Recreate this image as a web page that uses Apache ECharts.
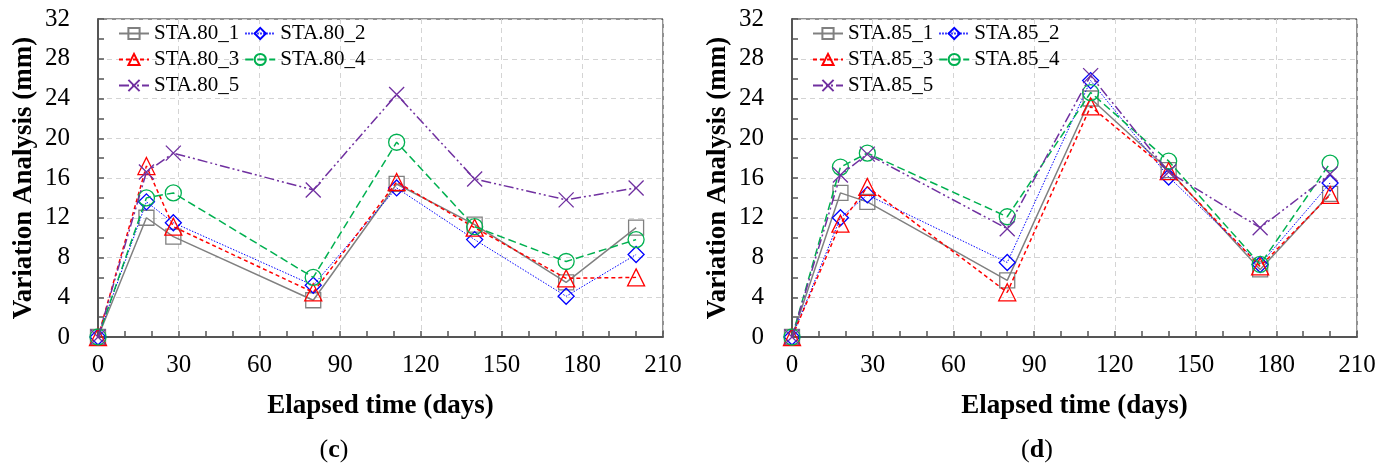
<!DOCTYPE html>
<html>
<head>
<meta charset="utf-8">
<script src="https://cdn.jsdelivr.net/npm/echarts@6/dist/echarts.min.js"></script>
<style>html,body{margin:0;padding:0;background:#fff}#c{width:1388px;height:466px}</style>
</head>
<body>
<div id="c"></div>
<script>
// ---- data ----
const days = [0, 18, 28, 80, 111, 140, 174, 200];
const xTicks = [0, 30, 60, 90, 120, 150, 180, 210];
const yTicks = [0, 4, 8, 12, 16, 20, 24, 28, 32];

const namesC = ['STA.80_1', 'STA.80_2', 'STA.80_3', 'STA.80_4', 'STA.80_5'];
const sta80_1 = [0, 12.0, 10.1, 3.7, 15.4, 11.3, 5.5, 11.0];
const sta80_2 = [0, 13.6, 11.5, 5.2, 15.0, 9.8, 4.1, 8.3];
const sta80_3 = [0, 17.2, 11.1, 4.5, 15.6, 11.0, 5.9, 6.0];
const sta80_4 = [0, 14.0, 14.5, 6.0, 19.6, 11.1, 7.6, 9.8];
const sta80_5 = [0, 16.6, 18.5, 14.8, 24.4, 15.9, 13.8, 15.0];

const namesD = ['STA.85_1', 'STA.85_2', 'STA.85_3', 'STA.85_4', 'STA.85_5'];
const sta85_1 = [0, 14.5, 13.6, 5.7, 24.0, 16.8, 6.8, 14.4];
const sta85_2 = [0, 12.0, 14.3, 7.5, 25.8, 16.1, 7.3, 15.5];
const sta85_3 = [0, 11.4, 15.1, 4.5, 23.2, 16.7, 7.1, 14.3];
const sta85_4 = [0, 17.1, 18.5, 12.1, 24.6, 17.7, 7.3, 17.5];
const sta85_5 = [0, 16.3, 18.4, 10.9, 26.3, 16.6, 11.0, 16.4];

const captions = ['c', 'd'];

// ---- styles ----
const FONT = '"Liberation Serif", "Times New Roman", serif';
const styles = [
  {color: '#808080', type: 'solid', width: 1.5, symbol: 'rect', size: 15},
  {color: '#0000ff', type: [1.5, 1.5], width: 1, symbol: 'diamond', size: 16},
  {color: '#ff0000', type: [4, 3], width: 1.5, symbol: 'triangle', size: 17},
  {color: '#00b050', type: [8, 4], width: 1.5, symbol: 'circle', size: 16},
  {color: '#7030a0', type: [10, 3, 2, 3, 2, 3], width: 1.5, symbol: 'path://M0,0L10,10M10,0L0,10', size: 15}
];

function pairs(vals) { return days.map((d, i) => [d, vals[i]]); }

const gridDefs = [{left: 98, top: 19, width: 565, height: 318}, {left: 792, top: 19, width: 565, height: 318}];
const seriesSets = [[sta80_1, sta80_2, sta80_3, sta80_4, sta80_5], [sta85_1, sta85_2, sta85_3, sta85_4, sta85_5]];
const nameSets = [namesC, namesD];

const option = {
  animation: false,
  backgroundColor: '#fff',
  textStyle: {fontFamily: FONT},
  grid: gridDefs.map(g => Object.assign({show: true, borderColor: '#222', borderWidth: 1, backgroundColor: 'transparent'}, g)),
  legend: gridDefs.map((g, gi) => ({
    data: nameSets[gi],
    left: g.left + 20,
    top: 23,
    width: 300,
    orient: 'horizontal',
    itemWidth: 30,
    itemHeight: 14,
    itemGap: 5,
    textStyle: {fontFamily: FONT, fontSize: 21, color: '#000', lineHeight: 21},
    padding: 0
  })),
  xAxis: gridDefs.map((g, gi) => ({
    gridIndex: gi, type: 'value', min: xTicks[0], max: xTicks[xTicks.length - 1], interval: xTicks[1] - xTicks[0],
    name: 'Elapsed time (days)', nameLocation: 'middle', nameGap: 56,
    nameTextStyle: {fontFamily: FONT, fontSize: 27, fontWeight: 'bold', color: '#000'},
    axisLine: {show: true, onZero: false, lineStyle: {color: '#555', width: 2}},
    axisTick: {show: true, inside: true, length: 6, lineStyle: {color: '#555', width: 1.5}},
    minorTick: {show: true, splitNumber: 3, length: 6, lineStyle: {color: '#555', width: 1.5}},
    axisLabel: {fontFamily: FONT, fontSize: 25, color: '#000', margin: 16},
    splitLine: {show: true, lineStyle: {color: '#d4d4d4', type: [5, 4], width: 1}}
  })),
  yAxis: gridDefs.map((g, gi) => ({
    gridIndex: gi, type: 'value', min: yTicks[0], max: yTicks[yTicks.length - 1], interval: yTicks[1] - yTicks[0],
    name: 'Variation Analysis (mm)', nameLocation: 'middle', nameGap: 60, nameRotate: 90,
    nameTextStyle: {fontFamily: FONT, fontSize: 27, fontWeight: 'bold', color: '#000'},
    axisLine: {show: true, onZero: false, lineStyle: {color: '#555', width: 2}},
    axisTick: {show: true, inside: true, length: 6, lineStyle: {color: '#555', width: 1.5}},
    minorTick: {show: true, splitNumber: 2, length: 6, lineStyle: {color: '#555', width: 1.5}},
    axisLabel: {fontFamily: FONT, fontSize: 25, color: '#000', margin: 28},
    splitLine: {show: true, lineStyle: {color: '#d4d4d4', type: [5, 4], width: 1}}
  })),
  series: [],
  graphic: gridDefs.map((g, gi) => ({
    type: 'text',
    x: g.left + (gi === 0 ? 236 : 245),
    y: 450,
    style: {
      text: '{p|(}{b|' + captions[gi] + '}{p|)}',
      textAlign: 'center', textVerticalAlign: 'middle',
      rich: {
        p: {fontFamily: FONT, fontSize: 26, fill: '#000'},
        b: {fontFamily: FONT, fontSize: 26, fontWeight: 'bold', fill: '#000'}
      }
    }
  }))
};

seriesSets.forEach((set, gi) => {
  set.forEach((vals, si) => {
    const s = styles[si];
    option.series.push({
      type: 'line',
      name: nameSets[gi][si],
      xAxisIndex: gi, yAxisIndex: gi,
      data: pairs(vals),
      symbol: s.symbol,
      symbolSize: s.size,
      showAllSymbol: true,
      lineStyle: {color: s.color, type: s.type, width: s.width},
      itemStyle: {color: 'rgba(255,255,255,0)', borderColor: s.color, borderWidth: 1.3},
      emphasis: {disabled: true},
      z: 2 + si
    });
  });
});

const chart = echarts.init(document.getElementById('c'), null, {renderer: 'canvas'});
chart.setOption(option);
</script>
</body>
</html>
